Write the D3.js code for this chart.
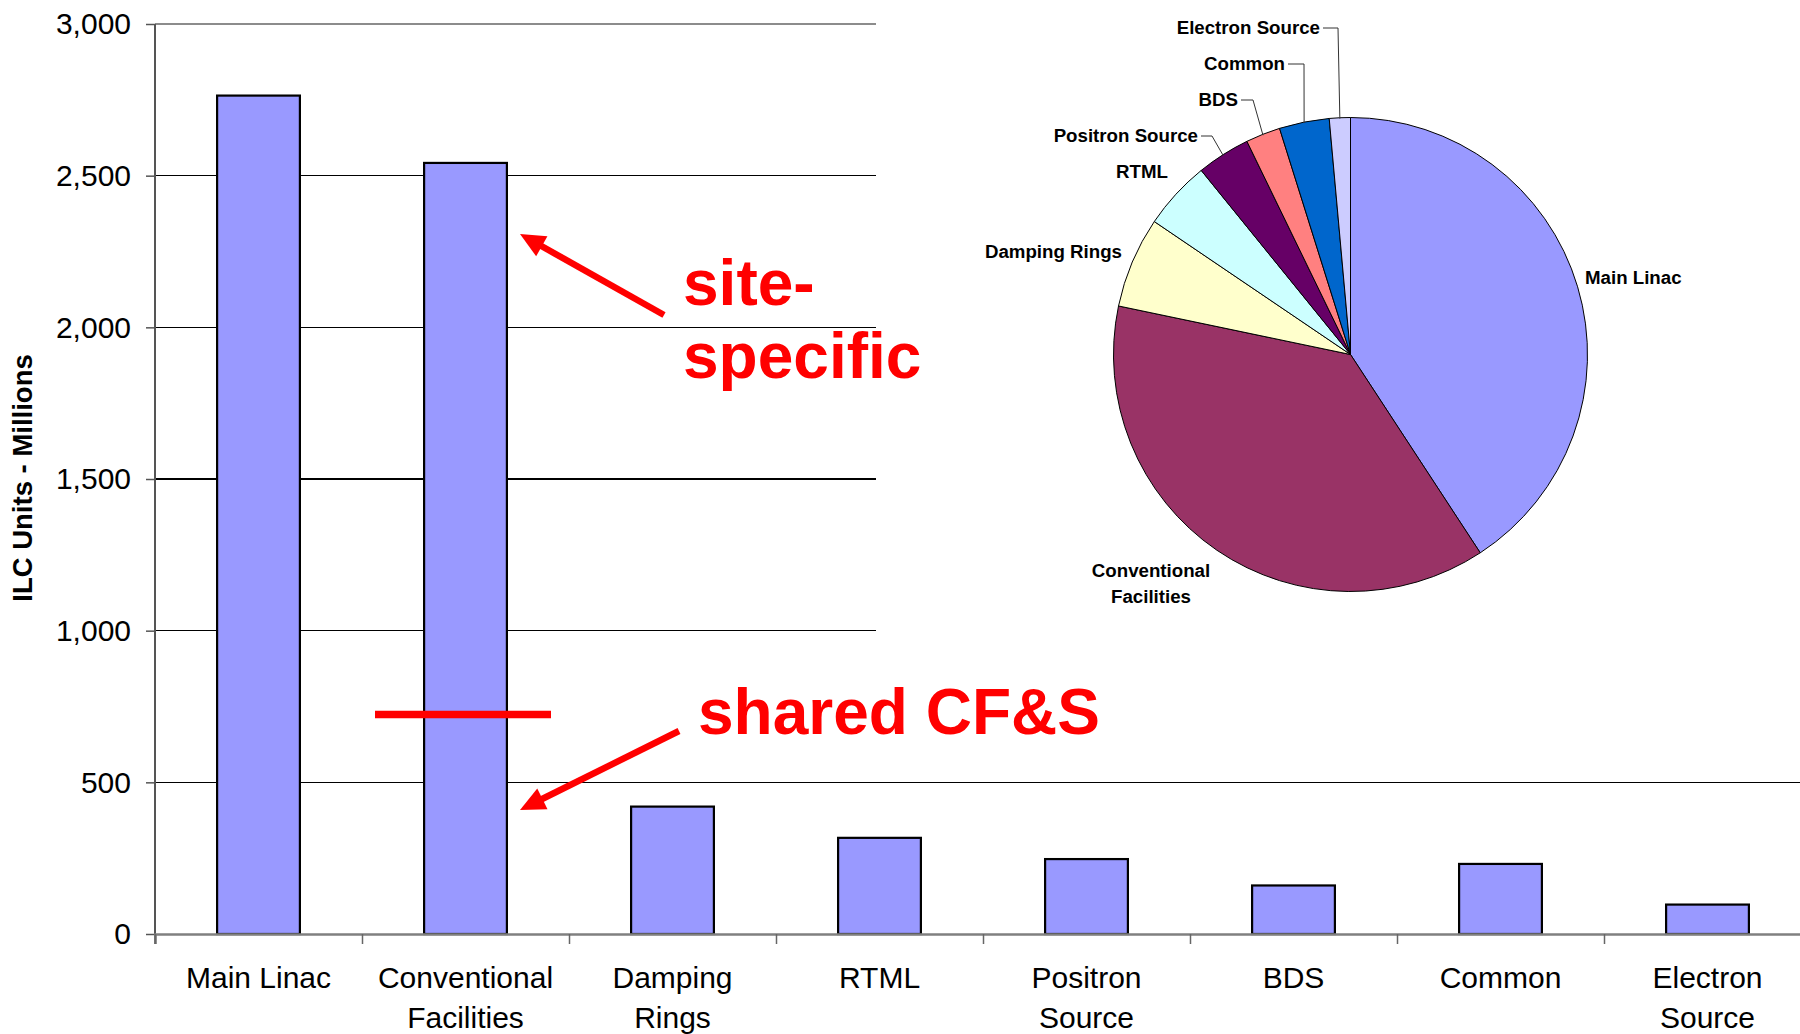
<!DOCTYPE html>
<html>
<head>
<meta charset="utf-8">
<script src="https://cdn.jsdelivr.net/npm/d3@7"></script>
<style>
  body { margin: 0; background: #fff; }
  svg { display: block; font-family: "Liberation Sans", Arial, Helvetica, sans-serif; }
  .ytick text { font-size: 30px; fill: #000; }
  .xlabel { font-size: 30px; fill: #000; }
  .pie-label { font-size: 18.7px; font-weight: bold; fill: #000; }
  .note { font-size: 64px; font-weight: bold; fill: #FF0000; }
</style>
</head>
<body>
<svg id="chart" width="1800" height="1034"></svg>
<script>
// bar chart data
const categories = ['Main Linac', 'Conventional Facilities', 'Damping Rings', 'RTML',
  'Positron Source', 'BDS', 'Common', 'Electron Source'];
const costs = [2764, 2542, 420, 317, 247, 160, 231, 97];
const yTicks = [0, 500, 1000, 1500, 2000, 2500, 3000];
const xLabelLines = [['Main Linac'], ['Conventional', 'Facilities'], ['Damping', 'Rings'], ['RTML'],
  ['Positron', 'Source'], ['BDS'], ['Common'], ['Electron', 'Source']];

// pie inset (same breakdown)
const pieColors = ['#9999FF', '#993366', '#FFFFCC', '#CCFFFF', '#660066', '#FF8080', '#0066CC', '#CCCCFF'];
const pieLabelLines = [['Main Linac'], ['Conventional', 'Facilities'], ['Damping Rings'], ['RTML'],
  ['Positron Source'], ['BDS'], ['Common'], ['Electron Source']];

// label placement for the pie (layout only)
const pieLabelPos = [
  { x: 1585, y: 278, anchor: 'start' },
  { x: 1151, y: 571, anchor: 'middle' },
  { x: 1122, y: 252, anchor: 'end' },
  { x: 1168, y: 172, anchor: 'end' },
  { x: 1198, y: 136, anchor: 'end', elbow: 1212 },
  { x: 1238, y: 100, anchor: 'end', elbow: 1253 },
  { x: 1285, y: 64, anchor: 'end', elbow: 1304 },
  { x: 1320, y: 28, anchor: 'end', elbow: 1338 }
];

const svg = d3.select('#chart');
const step = 207;
const left = 155;
const bottom = 934;
const gridEnd = 876;

const x = d3.scaleBand()
  .domain(categories)
  .range([left, left + step * categories.length])
  .paddingInner(0.6)
  .paddingOuter(0.3);

const y = d3.scaleLinear()
  .domain([0, 3000])
  .range([bottom, 24]);

// gridlines
svg.append('g')
  .selectAll('line')
  .data(yTicks.filter(d => d > 0))
  .enter()
  .append('line')
  .attr('x1', left)
  .attr('x2', d => d === 500 ? 1800 : gridEnd)
  .attr('y1', d => y(d))
  .attr('y2', d => y(d))
  .attr('stroke', d => d === 3000 ? '#8c8c8c' : '#000')
  .attr('stroke-width', d => d === 3000 ? 2.5 : 1.2)
  .attr('shape-rendering', 'crispEdges');

// bars
svg.append('g')
  .selectAll('rect')
  .data(categories)
  .enter()
  .append('rect')
  .attr('x', d => x(d))
  .attr('width', x.bandwidth())
  .attr('y', (d, i) => y(costs[i]))
  .attr('height', (d, i) => bottom - y(costs[i]))
  .attr('fill', '#9999FF')
  .attr('stroke', '#000')
  .attr('stroke-width', 2.2);

// y axis
const yAxis = svg.append('g')
  .attr('class', 'ytick')
  .attr('transform', 'translate(' + left + ',0)')
  .call(d3.axisLeft(y)
    .tickValues(yTicks)
    .tickSize(9)
    .tickPadding(15)
    .tickFormat(d3.format(','))
  );
yAxis.select('.domain').attr('stroke', '#555').attr('stroke-width', 2).attr('d', 'M0,' + y(3000) + 'V' + (bottom + 10));
yAxis.selectAll('.tick line').attr('stroke', '#555').attr('stroke-width', 1.5);
yAxis.selectAll('.tick text').attr('font-family', null).attr('font-size', null).attr('dy', '0.33em');

// x axis: ticks sit between the categories
const xIdx = d3.scaleLinear().domain([0, categories.length]).range(x.range());
const xAxis = svg.append('g')
  .attr('transform', 'translate(0,' + bottom + ')')
  .call(d3.axisBottom(xIdx)
    .tickValues(d3.range(0, categories.length))
    .tickSize(10)
    .tickFormat('')
  );
xAxis.select('.domain').attr('stroke', '#808080').attr('stroke-width', 2.5);
xAxis.selectAll('.tick line').attr('stroke', '#666').attr('stroke-width', 1.5);

svg.append('g')
  .selectAll('text')
  .data(categories)
  .enter()
  .append('text')
  .attr('class', 'xlabel')
  .attr('text-anchor', 'middle')
  .each(function (d, i) {
    const cx = x(d) + x.bandwidth() / 2;
    d3.select(this).selectAll('tspan')
      .data(xLabelLines[i])
      .enter()
      .append('tspan')
      .attr('x', cx)
      .attr('y', (t, j) => 988 + j * 40)
      .text(t => t);
  });

svg.append('text')
  .attr('transform', 'translate(32,' + 478 + ') rotate(-90)')
  .attr('text-anchor', 'middle')
  .attr('font-size', 27.5)
  .attr('font-weight', 'bold')
  .text('ILC Units - Millions');

// pie inset: sits on a white panel that hides the upper gridlines
const pieGroup = svg.append('g');
pieGroup.append('rect')
  .attr('x', gridEnd + 1)
  .attr('y', 0)
  .attr('width', 1800 - gridEnd)
  .attr('height', 700)
  .attr('fill', '#fff');

const pieCx = 1350.5;
const pieCy = 354.5;
const radius = 237;
const pie = d3.pie().sort(null).value(d => d);
const arcs = pie(costs);
const arc = d3.arc().innerRadius(0).outerRadius(radius);
const edgeArc = d3.arc().innerRadius(radius).outerRadius(radius);

const pieG = pieGroup.append('g').attr('transform', 'translate(' + pieCx + ',' + pieCy + ')');
pieG.selectAll('path')
  .data(arcs)
  .enter()
  .append('path')
  .attr('d', arc)
  .attr('fill', (d, i) => pieColors[i])
  .attr('stroke', '#000')
  .attr('stroke-width', 1);

// leader lines
pieGroup.selectAll('polyline')
  .data(arcs.filter((d, i) => pieLabelPos[i].elbow))
  .enter()
  .append('polyline')
  .attr('points', d => {
    const p = pieLabelPos[d.index];
    const e = edgeArc.centroid(d);
    return [[p.x + 3, p.y], [p.elbow, p.y], [pieCx + e[0], pieCy + e[1] + 1]].map(q => q.join(',')).join(' ');
  })
  .attr('fill', 'none')
  .attr('stroke', '#333')
  .attr('stroke-width', 1);

pieGroup.selectAll('text')
  .data(arcs)
  .enter()
  .append('text')
  .attr('class', 'pie-label')
  .attr('text-anchor', (d, i) => pieLabelPos[i].anchor)
  .each(function (d, i) {
    const p = pieLabelPos[i];
    d3.select(this).selectAll('tspan')
      .data(pieLabelLines[i])
      .enter()
      .append('tspan')
      .attr('x', p.x)
      .attr('y', (t, j) => p.y + j * 26)
      .attr('dy', '0.34em')
      .text(t => t);
  });

// red annotations
const notes = svg.append('g');
function arrow (x1, y1, x2, y2) {
  const dx = x2 - x1;
  const dy = y2 - y1;
  const len = Math.sqrt(dx * dx + dy * dy);
  const ux = dx / len;
  const uy = dy / len;
  const headLen = 25;
  const headW = 11.5;
  const bx = x2 - ux * headLen;
  const by = y2 - uy * headLen;
  notes.append('line')
    .attr('x1', x1).attr('y1', y1)
    .attr('x2', bx + ux * 2).attr('y2', by + uy * 2)
    .attr('stroke', '#FF0000')
    .attr('stroke-width', 6.5);
  notes.append('path')
    .attr('d', 'M' + x2 + ',' + y2 +
      'L' + (bx - uy * headW) + ',' + (by + ux * headW) +
      'L' + (bx + uy * headW) + ',' + (by - ux * headW) + 'Z')
    .attr('fill', '#FF0000');
}
arrow(664, 315, 520, 234);
arrow(679, 731, 520, 810);

notes.append('line')
  .attr('x1', 375).attr('x2', 551)
  .attr('y1', 714.5).attr('y2', 714.5)
  .attr('stroke', '#FF0000')
  .attr('stroke-width', 7.5);

notes.append('text').attr('class', 'note').attr('x', 683).attr('y', 305).text('site-');
notes.append('text').attr('class', 'note').attr('x', 683).attr('y', 378).text('specific');
notes.append('text').attr('class', 'note').attr('x', 698).attr('y', 734).text('shared CF&S');
</script>
</body>
</html>
